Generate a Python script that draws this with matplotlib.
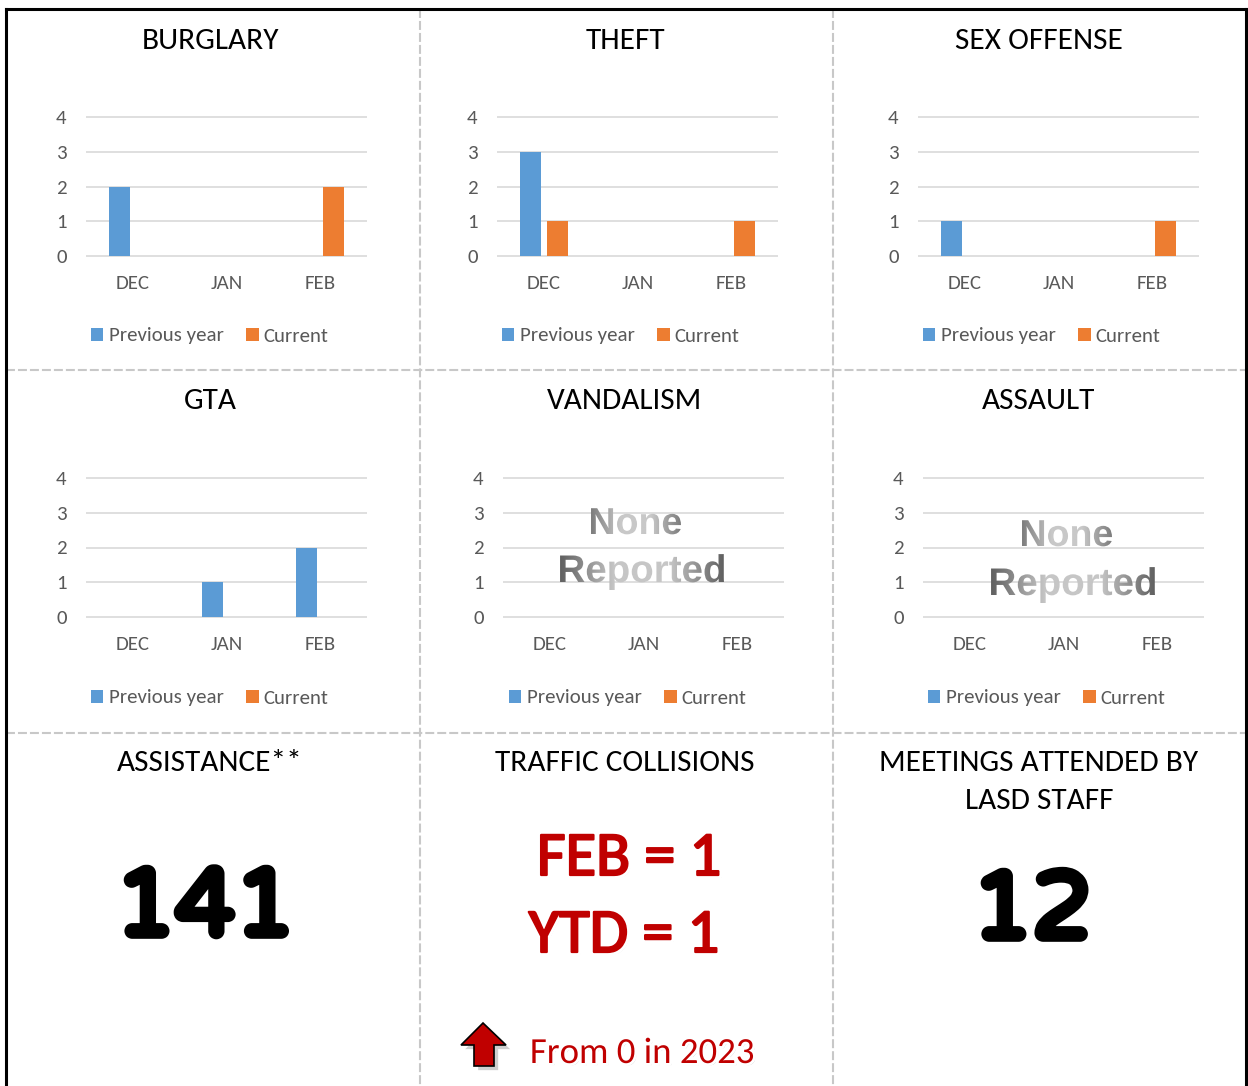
import numpy as np
import matplotlib
matplotlib.use('Agg')
import matplotlib.pyplot as plt
from matplotlib.patches import PathPatch, Polygon
from matplotlib.textpath import TextPath
from matplotlib.font_manager import FontProperties
from matplotlib.transforms import Affine2D
from matplotlib.colors import LinearSegmentedColormap
import matplotlib.patheffects as pe

W, H, DPI = 1248, 1086, 100

# ---------------- data ----------------
months = ['DEC', 'JAN', 'FEB']
series_names = ['Previous year', 'Current']
y_ticks = [0, 1, 2, 3, 4]

burglary_prev = [2, 0, 0]
burglary_curr = [0, 0, 2]
theft_prev = [3, 0, 0]
theft_curr = [1, 0, 1]
sex_offense_prev = [1, 0, 0]
sex_offense_curr = [0, 0, 1]
gta_prev = [0, 1, 2]
gta_curr = [0, 0, 0]
vandalism_prev = [0, 0, 0]
vandalism_curr = [0, 0, 0]
assault_prev = [0, 0, 0]
assault_curr = [0, 0, 0]

assistance_total = 141
meetings_total = 12
collisions_feb = 1
collisions_ytd = 1
collisions_prev_year = 0
prev_year = 2023

# ---------------- style ----------------
BLUE = '#5B9BD5'
ORANGE = '#ED7D31'
GRID = '#D9D9D9'
TICK = '#595959'
RED = '#C00000'
plt.rcParams['font.family'] = ['Carlito', 'DejaVu Sans']

fig = plt.figure(figsize=(W / DPI, H / DPI), dpi=DPI)
fig.patch.set_facecolor('white')


def px_rect(l, r, t, b):
    return [l / W, 1 - b / H, (r - l) / W, (b - t) / H]


charts = [
    ('BURGLARY', burglary_prev, burglary_curr, (86, 367, 117, 256), (210, 49), (210, 336)),
    ('THEFT', theft_prev, theft_curr, (497, 778, 117, 256), (625, 49), (621, 336)),
    ('SEX OFFENSE', sex_offense_prev, sex_offense_curr, (918, 1199, 117, 256), (1039, 49), (1042, 336)),
    ('GTA', gta_prev, gta_curr, (86, 367, 478, 617), (210, 409), (210, 698)),
    ('VANDALISM', vandalism_prev, vandalism_curr, (503, 784, 478, 617), (625, 409), (628, 698)),
    ('ASSAULT', assault_prev, assault_curr, (923, 1204, 478, 617), (1039, 409), (1047, 698)),
]

pad_u = 0.03
for title, prev, curr, (l, r, t, b), _, (lx, ly) in charts:
    unit = (b - t) / 4.0
    ax = fig.add_axes(px_rect(l, r, t - pad_u * unit, b + pad_u * unit))
    ax.set_facecolor('none')
    x = np.arange(len(months))
    bw, off = 0.224, 0.145
    ax.bar(x - off, prev, bw, color=BLUE, linewidth=0, label=series_names[0])
    ax.bar(x + off, curr, bw, color=ORANGE, linewidth=0, label=series_names[1])
    ax.set_xlim(-0.5, len(months) - 0.5)
    ax.set_ylim(-pad_u, 4 + pad_u)
    ax.set_yticks(y_ticks)
    ax.set_xticks(x, months)
    ax.tick_params(length=0, labelsize=15, labelcolor=TICK)
    ax.tick_params(axis='y', pad=14)
    ax.tick_params(axis='x', pad=13)
    for s in ax.spines.values():
        s.set_visible(False)
    ax.grid(axis='y', color=GRID, linewidth=1.2)
    ax.set_axisbelow(True)
    ax.legend(loc='center', bbox_to_anchor=(lx / W, 1 - ly / H), bbox_transform=fig.transFigure,
              ncol=2, frameon=False, fontsize=15, handlelength=0.58, handleheight=0.58,
              handletextpad=0.25, columnspacing=1.1, labelcolor=TICK, borderpad=0)

# ---------------- overlay ----------------
ov = fig.add_axes([0, 0, 1, 1], zorder=10)
ov.set_xlim(0, W)
ov.set_ylim(H, 0)
ov.axis('off')
ov.patch.set_alpha(0)

dash = (0, (4.3, 1.45))
for xv in (420, 833):
    ov.plot([xv, xv], [9, H], color='#C8C8C8', lw=1.5, ls=dash)
for yv in (370, 733):
    ov.plot([6, 1245], [yv, yv], color='#C8C8C8', lw=1.5, ls=dash)

# outer border
ov.plot([5.5, 5.5], [H + 5, 8.5], color='black', lw=2.2, solid_capstyle='projecting')
ov.plot([5.5, 1245.5], [8.5, 8.5], color='black', lw=2.2, solid_capstyle='projecting')
ov.plot([1245.5, 1245.5], [8.5, H + 5], color='black', lw=2.2, solid_capstyle='projecting')

TFS = 22.5
for title, _, _, _, (tx, ty), _ in charts:
    ov.text(tx, ty, title, ha='center', va='baseline', fontsize=TFS, color='black')

ov.text(210, 771, 'ASSISTANCE**', ha='center', va='baseline', fontsize=TFS)
ov.text(625, 771, 'TRAFFIC COLLISIONS', ha='center', va='baseline', fontsize=TFS)
ov.text(1039, 771, 'MEETINGS ATTENDED BY', ha='center', va='baseline', fontsize=TFS)
ov.text(1039, 809, 'LASD STAFF', ha='center', va='baseline', fontsize=TFS)

big_fp = FontProperties(family='Varela Round', size=68.5)
round_stroke = [pe.Stroke(linewidth=5.5, foreground='black', joinstyle='round', capstyle='round'), pe.Normal()]
ov.text(205, 935, str(assistance_total), ha='center', va='baseline', fontproperties=big_fp,
        color='black', path_effects=round_stroke)
ov.text(1032, 938, str(meetings_total), ha='center', va='baseline', fontproperties=big_fp,
        color='black', path_effects=round_stroke)

glow = [pe.SimplePatchShadow(offset=(2, -2), shadow_rgbFace='#808080', alpha=0.4),
        pe.Stroke(linewidth=6, foreground='white'),
        pe.Stroke(linewidth=1.6, foreground=RED), pe.Normal()]
ov.text(629, 875, f'FEB = {collisions_feb}', ha='center', va='baseline', fontsize=45,
        color=RED, path_effects=glow)
ov.text(624, 952, f'YTD = {collisions_ytd}', ha='center', va='baseline', fontsize=45,
        color=RED, path_effects=glow)
ov.text(642, 1063, f'From {collisions_prev_year} in {prev_year}', ha='center', va='baseline',
        fontsize=26.5, color=RED,
        path_effects=[pe.SimplePatchShadow(offset=(1.5, -1.5), shadow_rgbFace='#808080', alpha=0.4),
                      pe.Stroke(linewidth=4, foreground='white'), pe.Normal()])

arrow = Polygon([(483, 1023), (506, 1045), (494, 1045), (494, 1066), (474, 1066), (474, 1045), (461, 1045)],
                closed=True, facecolor=RED, edgecolor='black', lw=1.2,
                path_effects=[pe.SimplePatchShadow(offset=(3, -3), shadow_rgbFace='#777777', alpha=0.35), pe.Normal()])
ov.add_patch(arrow)

# gradient "None Reported" watermark text
fp = FontProperties(family='Liberation Sans', weight='bold')


def gradient_word(s, cx, base, size, edge, mid):
    tp = TextPath((0, 0), s, size=size, prop=fp)
    ext = tp.get_extents()
    tr = Affine2D().scale(1, -1).translate(cx - (ext.x0 + ext.x1) / 2, base)
    path = tr.transform_path(tp)
    patch = PathPatch(path, facecolor='none', edgecolor='none', transform=ov.transData)
    ov.add_patch(patch)
    pe_ext = path.get_extents()
    cmap = LinearSegmentedColormap.from_list('g', [edge, mid, mid, edge])
    grad = np.linspace(0, 1, 256).reshape(1, -1)
    im = ov.imshow(grad, cmap=cmap, extent=(pe_ext.x0 - 1, pe_ext.x1 + 1, pe_ext.y1 + 1, pe_ext.y0 - 1),
                   aspect='auto', interpolation='bilinear', zorder=5)
    im.set_clip_path(patch)


gradient_word('None', 636, 534, 37.5, '#7a7a7a', '#c8c8c8')
gradient_word('Reported', 642, 582, 38.5, '#5e5e5e', '#c6c6c6')
gradient_word('None', 1067, 546, 37.5, '#7a7a7a', '#c8c8c8')
gradient_word('Reported', 1073, 595, 38.5, '#5e5e5e', '#c6c6c6')

ov.set_xlim(0, W)
ov.set_ylim(H, 0)

fig.savefig('out.png', dpi=DPI, facecolor='white')
